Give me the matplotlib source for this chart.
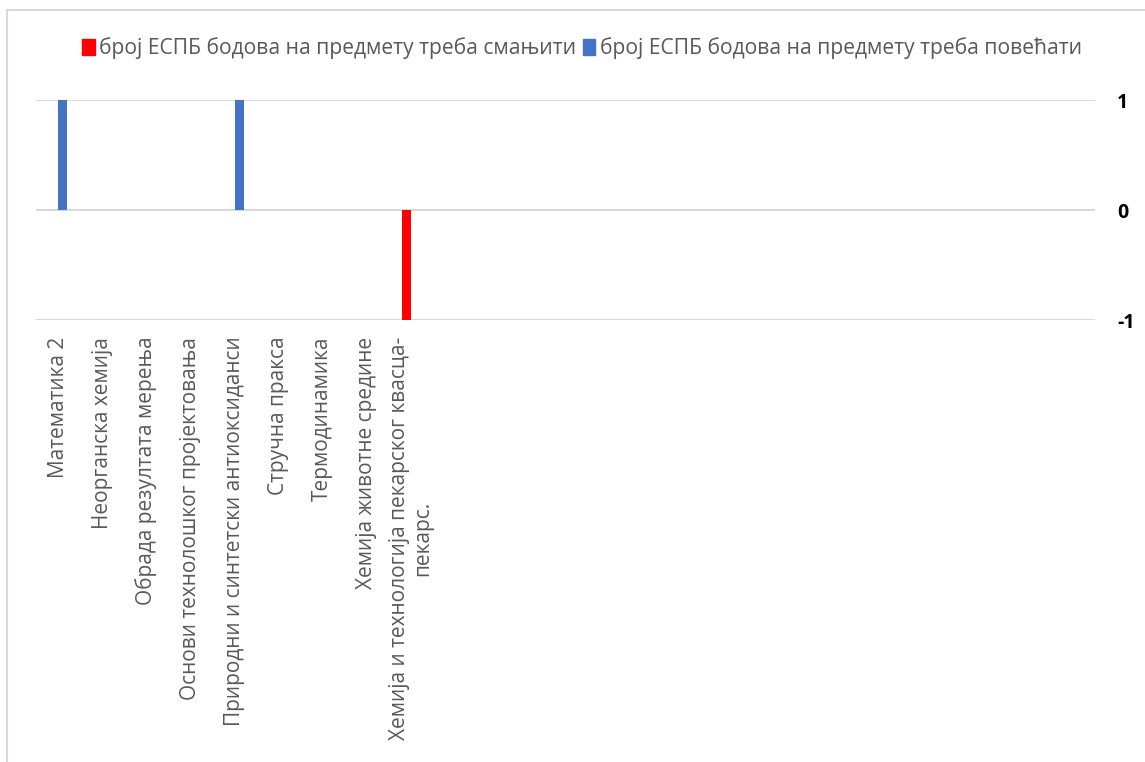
import matplotlib.pyplot as plt
from matplotlib.patches import Patch, Rectangle

# subjects (the chart has room for 24 categories, only the first 9 are named)
subjects = [
    'Математика 2',
    'Неорганска хемија',
    'Обрада резултата мерења',
    'Основи технолошког пројектовања',
    'Природни и синтетски антиоксиданси',
    'Стручна пракса',
    'Термодинамика',
    'Хемија животне средине',
    'Хемија и технологија пекарског квасца-\nпекарс.',
] + [''] * 15

decrease = [0, 0, 0, 0, 0, 0, 0, 0, -1] + [0] * 15
increase = [1, 0, 0, 0, 1, 0, 0, 0, 0] + [0] * 15

series_names = ['број ЕСПБ бодова на предмету треба смањити',
                'број ЕСПБ бодова на предмету треба повећати']
colors = ['#ff0000', '#4472c4']

plt.rcParams['font.family'] = ['Open Sans', 'DejaVu Sans']
plt.rcParams['axes.unicode_minus'] = False

W, H = 1145, 762
fig = plt.figure(figsize=(W / 100, H / 100), dpi=100)

# chart area border (left/top visible)
fig.patches.append(Rectangle((7 / W, -0.1), 1.2, 1 - 10 / H + 0.1,
                             transform=fig.transFigure, fill=False,
                             edgecolor='#d9d9d9', linewidth=1.5))

ax = fig.add_axes([36 / W, 1 - 320 / H, (1095 - 36) / W, 220 / H])

x = list(range(len(subjects)))
bw = 0.204
ax.bar([i - bw / 2 for i in x], decrease, width=bw, color=colors[0], zorder=3)
ax.bar([i + bw / 2 for i in x], increase, width=bw, color=colors[1], zorder=3)

ax.set_xlim(-0.5, len(subjects) - 0.5)
ax.set_ylim(-1, 1)
ax.set_yticks([-1, 0, 1])
ax.yaxis.tick_right()
ax.tick_params(axis='y', length=0, pad=16)
for t in ax.get_yticklabels():
    t.set_fontweight('bold')
    t.set_fontsize(14)
    t.set_color('#000000')
ax.grid(axis='y', color='#d9d9d9', linewidth=1.5, zorder=0)
for s in ax.spines.values():
    s.set_visible(False)

ax.set_xticks(x)
ax.set_xticklabels(subjects, rotation=90, fontsize=15, color='#595959',
                   va='top', ha='center', linespacing=1.1)
ax.tick_params(axis='x', length=0, pad=12)

handles = [Patch(color=c) for c in colors]
fig.legend(handles, series_names, loc='center', ncol=2,
           bbox_to_anchor=(582 / W, 1 - 48 / H), frameon=False,
           fontsize=15.2, labelcolor='#595959', handlelength=0.6,
           handleheight=0.8, handletextpad=0.2, columnspacing=0.3)

fig.savefig('out.png', dpi=100, facecolor='white')
